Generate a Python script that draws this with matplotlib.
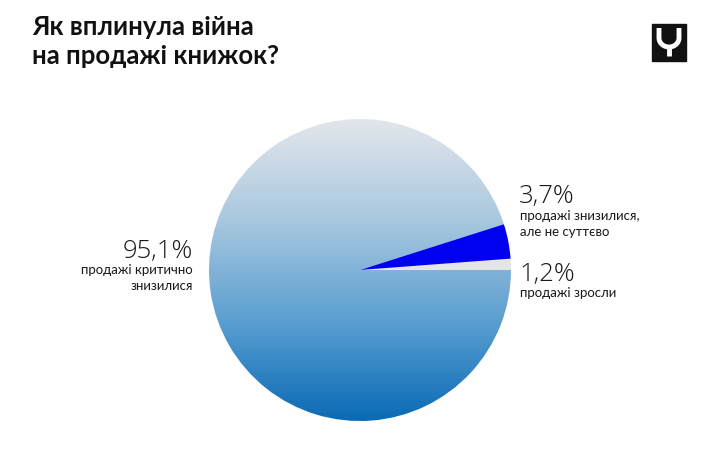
import numpy as np
import matplotlib
matplotlib.use("Agg")
import matplotlib.pyplot as plt
from matplotlib.colors import LinearSegmentedColormap

# -- Data --------------------------------------------------------------
# order: counter-clockwise from 3 o'clock
shares = [1.2, 3.7, 95.1]
pct_labels = ["1,2%", "3,7%", "95,1%"]
desc_labels = ["продажі зросли", "продажі знизилися,\nале не суттєво",
               "продажі критично\nзнизилися"]
slice_colors = ["#e4e5ea", "#0000f0", "none"]

TITLE = "Як вплинула війна\nна продажі книжок?"

W, H = 720, 450
CX, CY, R = 360, 450 - 270, 151

plt.rcParams["font.family"] = ["Lato", "DejaVu Sans"]

fig = plt.figure(figsize=(W / 100, H / 100), dpi=100)
ax = fig.add_axes([0, 0, 1, 1])

wedges, _ = ax.pie(shares, colors=slice_colors, center=(CX, CY), radius=R,
                   startangle=0, counterclock=True, frame=True,
                   wedgeprops=dict(linewidth=0))
ax.set_xlim(0, W)
ax.set_ylim(0, H)
ax.set_aspect("equal")
ax.axis("off")

# vertical gradient for the large slice
cmap = LinearSegmentedColormap.from_list("g", ["#0a6ab6", "#5b9fd0", "#a9c8df", "#e3e6eb"])
grad = np.linspace(0, 1, 256).reshape(-1, 1)
im = ax.imshow(grad, cmap=cmap, origin="lower", aspect="auto",
               extent=(CX - R, CX + R, CY - R, CY + R), zorder=0.5)
im.set_clip_path(wedges[2])

# labels
big_kw = dict(fontsize=18.5, family=["Open Sans", "DejaVu Sans"], fontweight=300,
              color="#1a1a1a")
small_kw = dict(fontsize=9.5, color="#1a1a1a", linespacing=1.45)

ax.text(193, H - 258, pct_labels[2], ha="right", va="baseline", **big_kw)
ax.text(193, H - 264, desc_labels[2], ha="right", va="top", **small_kw)

ax.text(519, H - 203, pct_labels[1], ha="left", va="baseline", **big_kw)
ax.text(520, H - 210, desc_labels[1], ha="left", va="top", **small_kw)

ax.text(519, H - 281, pct_labels[0], ha="left", va="baseline", **big_kw)
ax.text(520, H - 287, desc_labels[0], ha="left", va="top", **small_kw)

# title
ax.text(32, H - 15, TITLE, ha="left", va="top", fontsize=18.5, fontweight="bold",
        color="#111111", linespacing=1.25)

# logo
ax.add_patch(plt.Rectangle((652, H - 61), 34, 37, color="#111111"))
t = np.linspace(np.pi, 2 * np.pi, 40)
ux = 669 + 10 * np.cos(t)
uy = H - 38 + 9 * np.sin(t)
ax.plot(np.r_[659, ux, 679], np.r_[H - 28, uy, H - 28], color="white", lw=3.5,
        solid_capstyle="butt")
ax.plot([669, 669], [H - 47, H - 56], color="white", lw=3.5, solid_capstyle="butt")

fig.savefig("out.png", dpi=100)
